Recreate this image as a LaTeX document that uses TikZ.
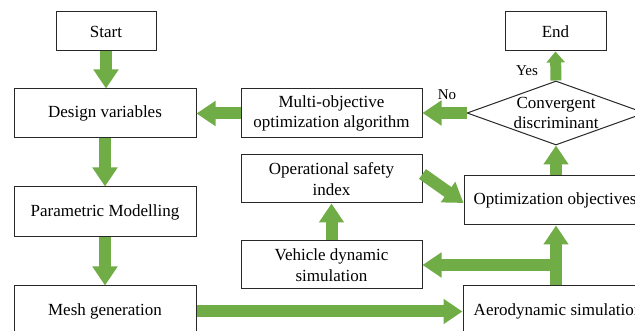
\documentclass[tikz,border=0pt]{standalone}
\usepackage{fontspec}
\setmainfont{Liberation Serif}
\usetikzlibrary{arrows.meta,shapes.geometric}
\definecolor{arrgreen}{RGB}{112,173,71}
\definecolor{boxline}{RGB}{40,40,40}
\tikzset{
  boxnode/.style={draw=boxline, line width=1pt, rectangle, inner sep=0pt, align=center, font=\fontsize{17}{20.5}\selectfont},
  bigarrow/.style={draw=arrgreen, line width=12pt, line cap=butt, -{Triangle[width=24pt,length=19pt]}},
  smallarrow/.style={draw=arrgreen, line width=11pt, line cap=butt, -{Triangle[width=18pt,length=11pt]}},
  lbl/.style={font=\fontsize{15}{18}\selectfont, inner sep=0pt}
}
\begin{document}
\begin{tikzpicture}[x=1pt,y=-1pt]
\useasboundingbox (0,0) rectangle (635,331);
\clip (0,0) rectangle (635,331);
\fill[white] (0,0) rectangle (635,331);
% boxes
\node[boxnode, minimum width=100pt, minimum height=39pt] (start) at (106,31.5) {Start};
\node[boxnode, minimum width=182pt, minimum height=49pt] (design) at (105,113.5) {Design variables};
\node[boxnode, minimum width=182pt, minimum height=50pt] (param) at (105,212) {Parametric Modelling};
\node[boxnode, minimum width=182pt, minimum height=51pt] (mesh) at (105,311.5) {Mesh generation};
\node[boxnode, minimum width=181pt, minimum height=49pt] (multi) at (331.5,113.5) {Multi-objective\\optimization algorithm};
\node[boxnode, minimum width=181pt, minimum height=48pt] (opsafe) at (331.5,179) {Operational safety\\index};
\node[boxnode, minimum width=181pt, minimum height=48pt] (vehicle) at (331.5,265) {Vehicle dynamic\\simulation};
\node[boxnode, minimum width=186pt, minimum height=51pt] (aero) at (556,311.5) {\hspace*{4pt}Aerodynamic simulation};
\node[boxnode, minimum width=184pt, minimum height=49pt] (opt) at (556,200.5) {\hspace*{-2pt}Optimization objectives};
\node[draw=boxline, line width=1pt, diamond, minimum width=178pt, minimum height=64pt, inner sep=0pt] (conv) at (556,113) {};
\node[align=center, inner sep=0pt, font=\fontsize{17}{20.5}\selectfont] (convtxt) at (conv) {Convergent\\discriminant};
\node[boxnode, minimum width=101pt, minimum height=39pt] (end) at (555.5,31.5) {End};
% arrows
\draw[bigarrow] (start.south) -- (start.south |- design.north);
\draw[bigarrow] (design.south) -- (param.north);
\draw[bigarrow] (param.south) -- (mesh.north);
\draw[bigarrow] (mesh.east) -- (aero.west |- mesh.east);
\draw[bigarrow] (aero.north) -- (opt.south);
\draw[bigarrow] ([xshift=6pt]aero.north |- vehicle.east) -- (vehicle.east);
\draw[bigarrow] (vehicle.north) -- (opsafe.south);
\draw[bigarrow] ([yshift=5pt]opsafe.east) -- ([yshift=-2.5pt]opt.west);
\draw[bigarrow] (opt.north) -- (conv.south);
\draw[bigarrow] (conv.west) -- (multi.east |- conv.west);
\draw[bigarrow] (multi.west) -- (design.east);
\draw[smallarrow] (conv.north) -- (end.south);
% labels
\node[lbl] (yes) at (527,71) {Yes};
\node[lbl] (no) at (447,95) {No};
\end{tikzpicture}
\end{document}
